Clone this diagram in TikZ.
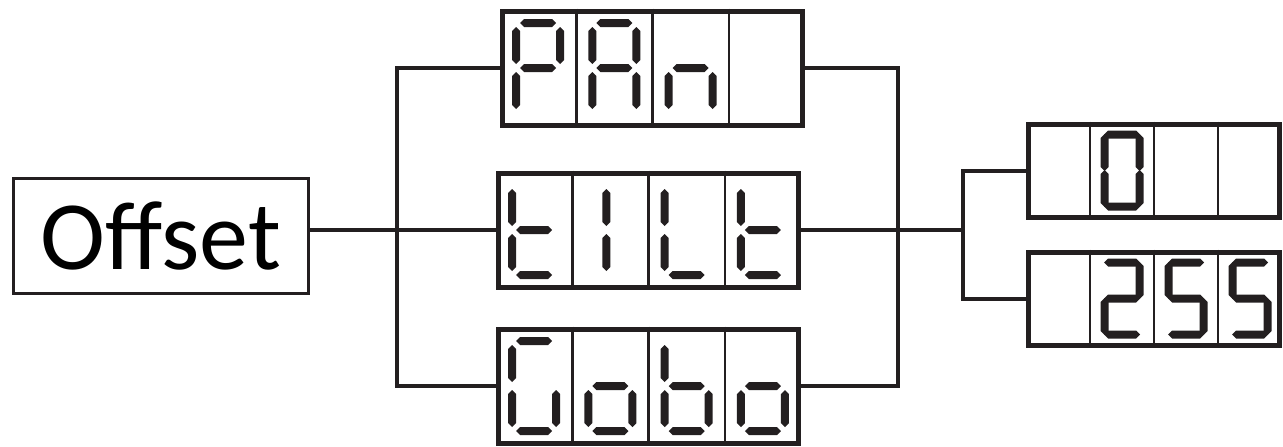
\documentclass[tikz,border=0pt]{standalone}
\usepackage{fontspec}
\setmainfont{Carlito}
\usetikzlibrary{positioning,calc}
\definecolor{ink}{RGB}{35,31,32}

\tikzset{
  wire/.style={draw=ink, line width=2pt},
  lcdframe/.style={draw=ink, line width=2.5pt, minimum width=150pt, minimum height=57pt, inner sep=0pt},
  lcdsmall/.style={lcdframe, minimum width=125.5pt, minimum height=46.5pt},
  cellline/.style={draw=ink, line width=1.2pt},
  pics/hseg/.style={code={\fill[ink] (-9pt,0pt) -- (-7pt,2pt) -- (7pt,2pt) -- (9pt,0pt) -- (7pt,-2pt) -- (-7pt,-2pt) -- cycle;}},
  pics/vseg/.style={code={\fill[ink] (0pt,-9.25pt) -- (2pt,-7.25pt) -- (2pt,7.25pt) -- (0pt,9.25pt) -- (-2pt,7.25pt) -- (-2pt,-7.25pt) -- cycle;}},
  pics/lcd/.style={code={\edef\seglist{#1}\foreach \sg in \seglist {\csname lcdseg\sg\endcsname}}},
}
\newcommand\lcdsega{\pic at (0pt,22.5pt) {hseg};}
\newcommand\lcdsegb{\pic at (11pt,11.25pt) {vseg};}
\newcommand\lcdsegc{\pic at (11pt,-11.25pt) {vseg};}
\newcommand\lcdsegd{\pic at (0pt,-22.5pt) {hseg};}
\newcommand\lcdsege{\pic at (-11pt,-11.25pt) {vseg};}
\newcommand\lcdsegf{\pic at (-11pt,11.25pt) {vseg};}
\newcommand\lcdsegg{\pic at (0pt,0pt) {hseg};}
\newcommand\lcdsegi{\pic at (-2pt,11.25pt) {vseg};}
\newcommand\lcdsegj{\pic at (-2pt,-11.25pt) {vseg};}
\newcommand\lcdcells[3]{%
  \foreach \i in {1,2,3}
    \draw[cellline] ($(#1.north west)!\i/4!(#1.north east)$) -- ($(#1.south west)!\i/4!(#1.south east)$);
  \foreach \digs [count=\i] in {#3}
    \pic[scale=#2] at ($(#1.west)!{(2*\i-1)/8}!(#1.east)$) {lcd=\digs};
}

\begin{document}
\begin{tikzpicture}
\useasboundingbox (0,0) rectangle (641.5pt,-223pt);

\node[draw=ink, line width=1.6pt, minimum width=147.5pt, minimum height=57.5pt, inner sep=0pt,
      font=\fontsize{49}{50}\selectfont] (offset) at (80.5pt,-118pt) {Offset};
\node[lcdframe, right=93pt of offset, yshift=3pt] (tilt) {};
\node[lcdframe, above=21.5pt of tilt, xshift=2pt] (pan) {};
\node[lcdframe, below=18.5pt of tilt] (gobo) {};
\node[lcdsmall, right=112.5pt of tilt, yshift=29.75pt] (zero) {};
\node[lcdsmall, below=15pt of zero] (full) {};

\lcdcells{pan}{1}{{a,b,e,f,g},{a,b,c,e,f,g},{c,e,g},{x}}
\lcdcells{tilt}{1}{{d,e,f,g},{i,j},{d,e,f},{d,e,f,g}}
\lcdcells{gobo}{1}{{a,c,d,e,f},{c,d,e,g},{c,d,e,f,g},{c,d,e,g}}
\lcdcells{zero}{0.8}{{x},{a,b,c,d,e,f},{x},{x}}
\lcdcells{full}{0.8}{{x},{a,b,d,e,g},{a,c,d,f,g},{a,c,d,f,g}}

\coordinate[left=49.5pt of tilt.west] (lsplit);
\coordinate[right=48.5pt of tilt.east] (rsplit);
\coordinate[right=81pt of tilt.east] (vsplit);

\draw[wire] (tilt.west -| offset.east) -- (tilt.west);
\draw[wire] (pan.west) -| (lsplit) |- (gobo.west);
\draw[wire] (pan.east) -| (rsplit) |- (gobo.east);
\draw[wire] (tilt.east) -- (vsplit);
\draw[wire] (zero.west) -| (vsplit) |- (full.west);
\end{tikzpicture}
\end{document}
